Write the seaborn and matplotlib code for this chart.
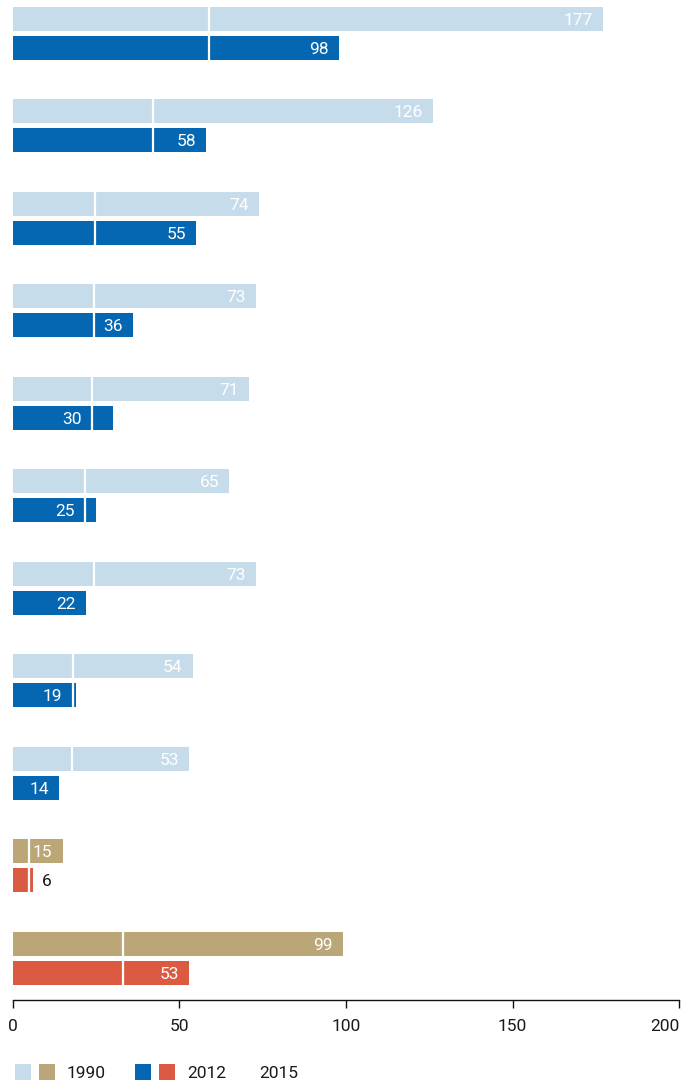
import matplotlib
matplotlib.use("Agg")
import matplotlib.pyplot as plt
from matplotlib.patches import Rectangle
import seaborn as sns
import pandas as pd

# ---- data ----
categories = [f"Group {i}" for i in range(1, 12)]
values_1990 = [177, 126, 74, 73, 71, 65, 73, 54, 53, 15, 99]
values_2012 = [98, 58, 55, 36, 30, 25, 22, 19, 14, 6, 53]
target_2015 = [59, 42, 24.7, 24.3, 23.7, 21.7, 24.3, 18, 17.7, 5, 33]
years = ["1990", "2012"]
x_ticks = [0, 50, 100, 150, 200]

LIGHT_BLUE = "#c6dcea"
DARK_BLUE = "#0567b1"
TAN = "#baa677"
RED = "#dc5a42"
alt_groups = [9, 10]  # drawn in tan/red

sns.set_theme(style="white")
plt.rcParams["font.family"] = ["Roboto", "DejaVu Sans"]

W, H = 689, 1083
fig = plt.figure(figsize=(W / 100, H / 100), dpi=100)
ax = fig.add_axes([12.5 / W, 83 / H, (679.2 - 12.5) / W, 1000 / H])

df = pd.DataFrame({
    "category": categories * 2,
    "year": [years[0]] * len(categories) + [years[1]] * len(categories),
    "value": values_1990 + values_2012,
})

sns.barplot(data=df, y="category", x="value", hue="year", orient="h",
            palette=[LIGHT_BLUE, DARK_BLUE], width=0.624, gap=0.167,
            saturation=1, errorbar=None, legend=False, ax=ax,
            linewidth=0)

light_bars = ax.containers[0]
dark_bars = ax.containers[1]
for i in alt_groups:
    light_bars[i].set_facecolor(TAN)
    dark_bars[i].set_facecolor(RED)

# target lines (2015)
for i, t in enumerate(target_2015):
    top = light_bars[i].get_y()
    bot = dark_bars[i].get_y() + dark_bars[i].get_height()
    ax.vlines(t, top, bot, color="white", lw=1.6, zorder=5)

# value labels
FS = 12.5
for bars, vals in ((light_bars, values_1990), (dark_bars, values_2012)):
    for p, v, t in zip(bars, vals, target_2015):
        yc = p.get_y() + p.get_height() / 2
        if v < 10:
            ax.annotate(str(v), xy=(v, yc), xytext=(9, -1.5), textcoords="offset pixels",
                        ha="left", va="center", color="#1a1a1a", fontsize=FS, zorder=6)
        else:
            anchor = t if 0 < v - t < 9 else v
            ax.annotate(str(v), xy=(anchor, yc), xytext=(-10, -1.5), textcoords="offset pixels",
                        ha="right", va="center", color="white", fontsize=FS, zorder=6)

ax.set_xlim(0, 200)
ax.set_ylim(10.45, -0.358)
ax.set_xticks(x_ticks)
ax.set_xticklabels([str(t) for t in x_ticks])
ax.set_yticks([])
ax.set_xlabel("")
ax.set_ylabel("")
for s in ["top", "right", "left"]:
    ax.spines[s].set_visible(False)
ax.spines["bottom"].set_color("#111111")
ax.spines["bottom"].set_linewidth(1.0)
ax.tick_params(axis="x", direction="out", length=6, width=1, color="#111111",
               labelsize=FS, labelcolor="#1a1a1a", pad=8, bottom=True)
ax.get_xticklabels()[-1].set_ha("right")
ax.set_facecolor("white")
ax.grid(False)

# legend (manual)
def fx(px):
    return px / W

def fy(py):
    return (H - py) / H

sw = 16
leg_y = 1064
for x0, col in ((15, LIGHT_BLUE), (39, TAN), (135, DARK_BLUE), (159, RED)):
    fig.add_artist(Rectangle((fx(x0), fy(leg_y + sw)), sw / W, sw / H,
                             transform=fig.transFigure, facecolor=col, edgecolor="none"))
for x0, lab in ((67, "1990"), (187, "2012"), (259, "2015")):
    fig.text(fx(x0), fy(leg_y + sw / 2 + 1), lab, ha="left", va="center",
             fontsize=FS, color="#1a1a1a")

fig.savefig("out.png", dpi=100, facecolor="white")
